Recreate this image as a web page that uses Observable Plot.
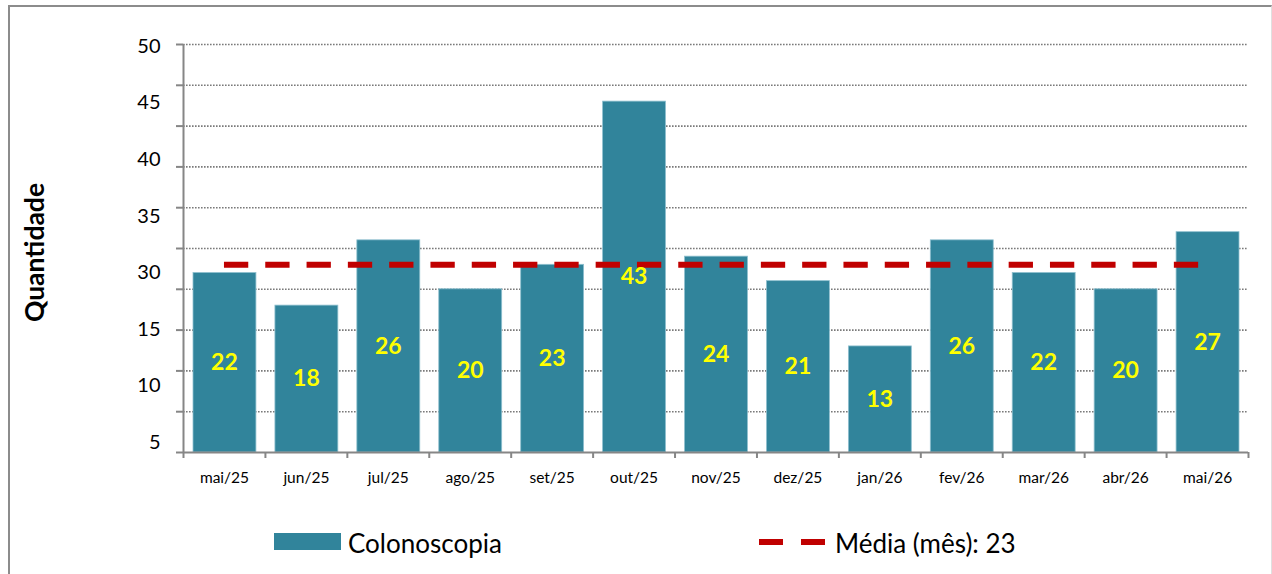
<!DOCTYPE html>
<html>
<head>
<meta charset="utf-8">
<script src="https://cdn.jsdelivr.net/npm/d3@7"></script>
<script src="https://cdn.jsdelivr.net/npm/@observablehq/plot@0.6"></script>
<style>
  html, body { margin: 0; padding: 0; background: #fff; }
  #wrap { position: relative; width: 1272px; height: 574px; overflow: hidden; background: #fff; font-family: Lato, sans-serif; }
  #frame { position: absolute; left: 8px; top: 5px; width: 1261px; height: 700px;
           border-top: 2px solid #8c8c8c; border-left: 2px solid #8c8c8c; border-right: 1px solid #e0e0e0; }
  #chart { position: absolute; left: 0; top: 0; }
  #legend { position: absolute; left: 0; top: 510px; width: 1272px; height: 64px; }
  .sw { position: absolute; }
  .lt { position: absolute; font-size: 26px; line-height: 26px; color: #000; white-space: nowrap; }
</style>
</head>
<body>
<div id="wrap">
  <div id="frame"></div>
  <div id="chart"></div>
  <div id="legend"></div>
</div>
<script>
// ---- data ----
const months = ["mai/25","jun/25","jul/25","ago/25","set/25","out/25","nov/25","dez/25","jan/26","fev/26","mar/26","abr/26","mai/26"];
const colonoscopia = [22, 18, 26, 20, 23, 43, 24, 21, 13, 26, 22, 20, 27];
const media = 23;
const gridValues = [5, 10, 15, 20, 25, 30, 35, 40, 45, 50];
const yTickMarks = [0, 5, 10, 15, 20, 25, 30, 35, 40, 45, 50];
const yTickLabels = ["50", "45", "40", "35", "30", "15", "10", "5"];
const seriesName = "Colonoscopia";
const meanName = "Média (mês): 23";
const yTitle = "Quantidade";

const teal = "#31849B";
const red = "#C00000";
const axisGray = "#868686";

const data = months.map((m, i) => ({i, m, v: colonoscopia[i]}));
const labelStep = (49.75 - 1.24) / (yTickLabels.length - 1);

const chart = Plot.plot({
  width: 1272,
  height: 510,
  marginLeft: 183,
  marginRight: 24,
  marginTop: 44,
  marginBottom: 58,
  x: {type: "linear", domain: [-0.5, months.length - 0.5], axis: null, label: null},
  y: {domain: [0, 50], axis: null, label: null},
  style: {fontFamily: "Lato, sans-serif", color: "#000", background: "transparent", overflow: "visible"},
  marks: [
    Plot.ruleY(gridValues, {stroke: "#7a7a7a", strokeWidth: 1.6, strokeDasharray: "1.6,1.4"}),
    Plot.rectY(data, {x1: d => d.i - 0.5, x2: d => d.i + 0.5, y: "v", insetLeft: 10, insetRight: 9,
      fill: teal, stroke: "#8fc0cf", strokeWidth: 0.8}),
    Plot.ruleY([media], {x1: 0, x2: months.length - 1, stroke: red, strokeWidth: 6, strokeDasharray: "24.3,17"}),
    Plot.text(data, {x: "i", y: d => d.v / 2, text: d => String(d.v), fill: "#FFFF00",
      fontWeight: "bold", fontSize: 23}),
    Plot.axisY({ticks: yTickMarks, tickSize: 7, tickFormat: () => "", stroke: axisGray, strokeWidth: 2, label: null}),
    Plot.ruleX([-0.5], {y1: 0, y2: 50, stroke: axisGray, strokeWidth: 2}),
    Plot.ruleY([0], {stroke: axisGray, strokeWidth: 2}),
    Plot.axisX({ticks: d3.range(-0.5, months.length, 1), tickSize: 6, tickFormat: () => "",
      stroke: axisGray, strokeWidth: 2, label: null}),
    Plot.axisX({ticks: d3.range(0, months.length), tickSize: 0, tickPadding: 19,
      tickFormat: i => months[i], fontSize: 15.5, fill: "#000", label: null}),
    Plot.text(yTickLabels, {x: -0.5, y: (d, i) => 49.75 - i * labelStep, text: d => d,
      textAnchor: "end", dx: -23, fontSize: 20, fill: "#000"}),
    Plot.text([yTitle], {frameAnchor: "left", textAnchor: "middle", dx: -148, dy: 4, rotate: -90, text: d => d,
      fontWeight: "bold", fontSize: 26.5, fill: "#000"})
  ]
});
document.getElementById("chart").appendChild(chart);

// ---- legend ----
const legend = document.getElementById("legend");
legend.innerHTML = `
  <div class="sw" style="left:274px;top:23px;width:67px;height:17px;background:${teal}"></div>
  <div class="lt" style="left:348px;top:20px">${seriesName}</div>
  <div class="sw" style="left:759px;top:29px;width:24px;height:6px;background:${red}"></div>
  <div class="sw" style="left:801px;top:29px;width:24px;height:6px;background:${red}"></div>
  <div class="lt" style="left:835px;top:20px">${meanName}</div>
`;
</script>
</body>
</html>
